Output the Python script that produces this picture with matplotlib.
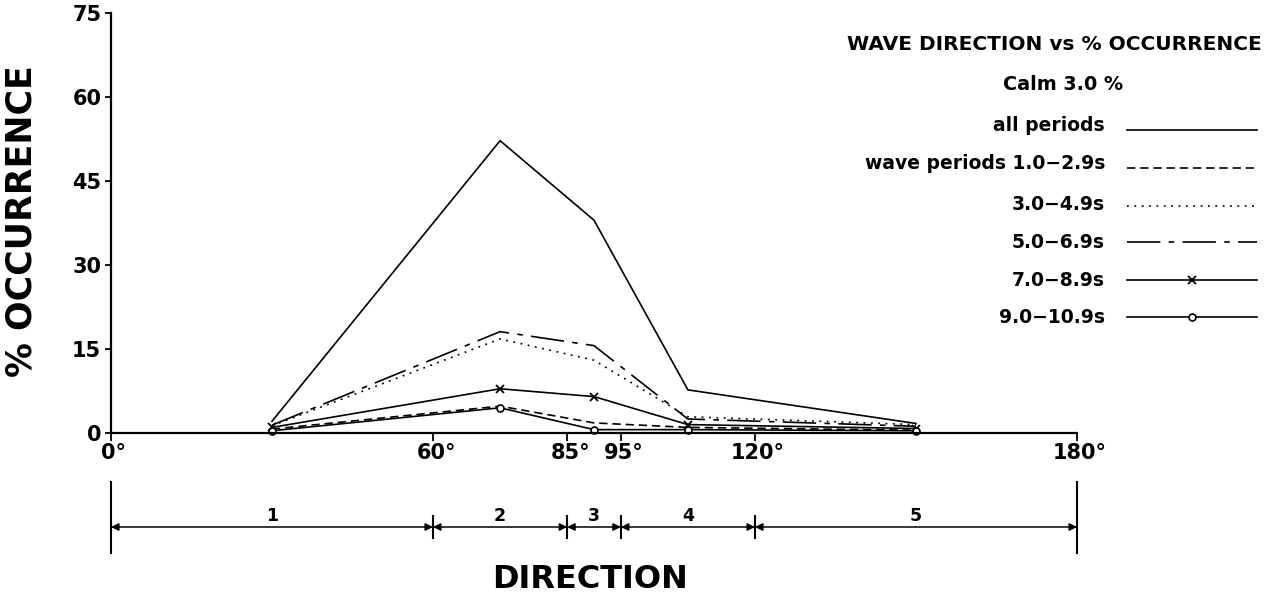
import matplotlib
matplotlib.use("Agg")
import matplotlib.pyplot as plt
import matplotlib.transforms as mtransforms
from matplotlib.lines import Line2D

W, H = 1269, 598
plt.rcParams["font.family"] = "DejaVu Sans"
plt.rcParams["lines.scale_dashes"] = False

# Sector mid-directions (degrees) and % occurrence per wave-period class
directions = [30, 72.5, 90, 107.5, 150]
all_periods = [2.1, 52.2, 38.0, 7.7, 1.7]
p_1_29 = [0.7, 4.8, 1.8, 1.0, 0.5]
p_3_49 = [1.3, 16.8, 13.0, 2.9, 1.5]
p_5_69 = [1.4, 18.1, 15.6, 2.5, 1.2]
p_7_89 = [1.0, 7.9, 6.5, 1.5, 0.8]
p_9_109 = [0.4, 4.5, 0.6, 0.6, 0.4]

series = [all_periods, p_1_29, p_3_49, p_5_69, p_7_89, p_9_109]
series_labels = ["all periods", "wave periods 1.0\u22122.9s", "3.0\u22124.9s",
                 "5.0\u22126.9s", "7.0\u22128.9s", "9.0\u221210.9s"]

x_ticks = [0, 60, 85, 95, 120, 180]
x_tick_labels = ["0\u00b0", "60\u00b0", "85\u00b0", "95\u00b0", "120\u00b0", "180\u00b0"]
y_ticks = [0, 15, 30, 45, 60, 75]

sector_bounds = [0, 60, 85, 95, 120, 180]
sector_names = ["1", "2", "3", "4", "5"]

styles = [
    dict(linestyle="-"),
    dict(dashes=(6, 3.5)),
    dict(dashes=(1.3, 4)),
    dict(dashes=(24, 6, 4, 6)),
    dict(linestyle="-", marker="x", markersize=6, markeredgewidth=1.3),
    dict(linestyle="-", marker="o", markersize=5, markerfacecolor="white",
         markeredgewidth=1.2),
]
LW = 1.2


def fx(px):
    return px / W


def fy(py):
    return 1 - py / H


fig = plt.figure(figsize=(W / 100, H / 100), dpi=100)
ax = fig.add_axes([fx(111), fy(433), (1077 - 111) / W, (433 - 13) / H])

for vals, st in zip(series, styles):
    ax.plot(directions, vals, color="black", lw=LW, clip_on=False, **st)

ax.set_xlim(0, 180)
ax.set_ylim(0, 75)
ax.set_xticks(x_ticks, labels=x_tick_labels)
ax.set_yticks(y_ticks)
for side in ("top", "right"):
    ax.spines[side].set_visible(False)
for side in ("left", "bottom"):
    ax.spines[side].set_linewidth(1.6)
ax.tick_params(axis="both", direction="out", width=1.3, labelsize=15, colors="black")
ax.tick_params(axis="x", length=6, pad=1)
ax.tick_params(axis="y", length=4, pad=3)
for lbl in ax.get_xticklabels() + ax.get_yticklabels():
    lbl.set_fontweight("bold")
shift = mtransforms.ScaledTranslation(3 / 100, 0, fig.dpi_scale_trans)
for lbl in ax.get_xticklabels():
    lbl.set_transform(lbl.get_transform() + shift)

fig.text(fx(22), fy(221), "% OCCURRENCE", rotation=90, ha="center", va="center",
         fontsize=25, fontweight="bold")
fig.text(fx(590), fy(588), "DIRECTION", ha="center", va="baseline",
         fontsize=23, fontweight="bold")

# Legend block
fig.text(fx(1262), fy(50), "WAVE DIRECTION vs % OCCURRENCE", ha="right",
         va="baseline", fontsize=14.5, fontweight="bold")
fig.text(fx(1063), fy(90), "Calm 3.0 %", ha="center", va="baseline",
         fontsize=13.8, fontweight="bold")
text_base = [131, 169, 210, 248, 286, 323]
line_y = [130, 168, 206, 242, 280, 317]
for lab, st, tb, ly in zip(series_labels, styles, text_base, line_y):
    fig.text(fx(1105), fy(tb), lab, ha="right", va="baseline",
             fontsize=13.5, fontweight="bold")
    kw = dict(st)
    if "marker" in kw:
        kw["markevery"] = [1]
    h = Line2D([fx(1127), fx(1192), fx(1257)], [fy(ly)] * 3,
               transform=fig.transFigure, color="black", lw=LW, **kw)
    fig.add_artist(h)

# Direction sectors below the axis
blend = mtransforms.blended_transform_factory(ax.transData, fig.transFigure)
ybar = fy(527)
for b0, b1, name in zip(sector_bounds[:-1], sector_bounds[1:], sector_names):
    ax.annotate("", xy=(b1, ybar), xytext=(b0, ybar),
                xycoords=("data", "figure fraction"),
                textcoords=("data", "figure fraction"),
                arrowprops=dict(arrowstyle="<|-|>", color="black", lw=1.1,
                                shrinkA=0, shrinkB=0, mutation_scale=11),
                annotation_clip=False)
    ax.text((b0 + b1) / 2, fy(521), name, transform=blend, ha="center",
            va="baseline", fontsize=12.5, fontweight="bold")
for b in sector_bounds:
    if b in (sector_bounds[0], sector_bounds[-1]):
        y0, y1 = fy(482), fy(553)
    else:
        y0, y1 = fy(516), fy(538)
    ax.add_line(Line2D([b, b], [y0, y1], transform=blend, color="black",
                       lw=1.5, clip_on=False))

fig.savefig("out.png", dpi=100)
